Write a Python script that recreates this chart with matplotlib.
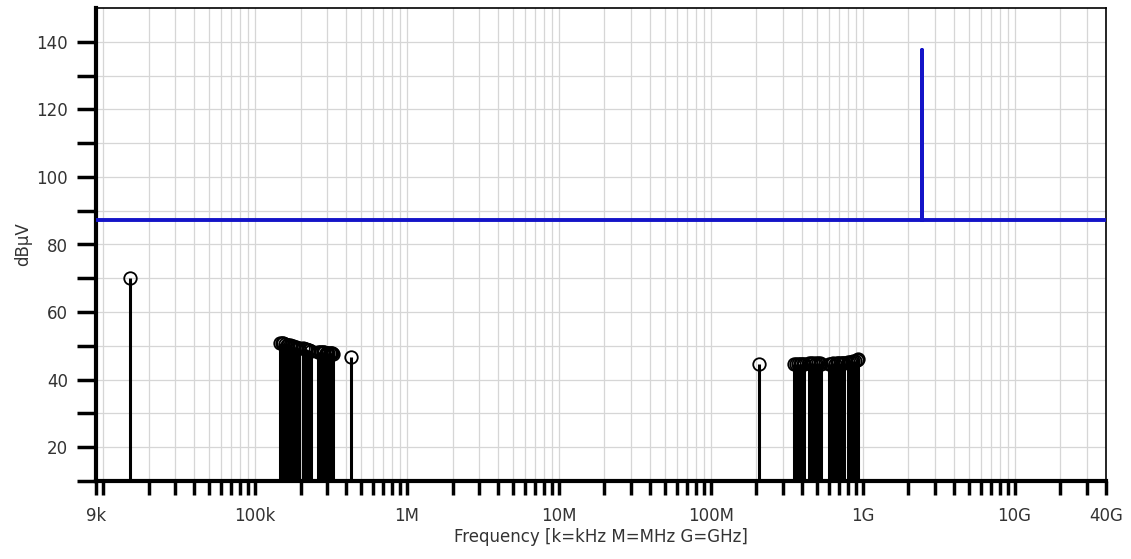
import numpy as np
import matplotlib.pyplot as plt
from matplotlib.ticker import FixedLocator, NullFormatter

# emission peaks (Hz, dBuV)
f_low = [15.1e3]
v_low = [70.1]

f_grp1 = [146e3, 150e3, 154e3, 158e3, 162e3, 166e3, 170e3, 174e3, 178e3, 182e3, 186e3, 190e3, 194e3]
v_grp1 = [50.8, 50.9, 50.7, 50.6, 50.4, 50.3, 50.2, 50.0, 49.9, 49.7, 49.6, 49.5, 49.4]
f_grp2 = [208e3, 213e3, 218e3, 223e3, 228e3, 233e3]
v_grp2 = [49.3, 49.2, 49.0, 48.9, 48.8, 48.6]
f_grp3 = [262e3, 268e3, 274e3, 280e3, 286e3, 292e3, 298e3, 304e3, 310e3, 316e3, 322e3, 327e3]
v_grp3 = [48.3, 48.2, 48.2, 48.1, 48.1, 48.0, 48.0, 47.9, 47.9, 47.8, 47.8, 47.7]
f_single1 = [430e3]
v_single1 = [46.8]

f_single2 = [208e6]
v_single2 = [44.5]
f_grp4 = [355e6, 365e6, 375e6, 385e6, 395e6, 405e6, 412e6]
v_grp4 = [44.6, 44.6, 44.5, 44.6, 44.7, 44.6, 44.7]
f_grp5 = [445e6, 458e6, 471e6, 484e6, 497e6, 510e6, 522e6, 533e6]
v_grp5 = [44.8, 44.9, 44.8, 44.7, 44.8, 44.9, 44.8, 44.7]
f_grp6 = [602e6, 620e6, 638e6, 656e6, 674e6, 692e6, 710e6, 728e6, 746e6, 756e6]
v_grp6 = [44.6, 44.7, 44.8, 44.7, 44.8, 44.9, 44.8, 44.9, 45.0, 45.0]
f_grp7 = [803e6, 825e6, 847e6, 869e6, 891e6, 913e6, 935e6]
v_grp7 = [45.1, 45.2, 45.3, 45.4, 45.6, 45.8, 46.0]

# limit line
f_limit = [9e3, 2.45e9, 2.45e9, 2.45e9, 40e9]
v_limit = [87.2, 87.2, 137.6, 87.2, 87.2]

freqs = f_low + f_grp1 + f_grp2 + f_grp3 + f_single1 + f_single2 + f_grp4 + f_grp5 + f_grp6 + f_grp7
vals = v_low + v_grp1 + v_grp2 + v_grp3 + v_single1 + v_single2 + v_grp4 + v_grp5 + v_grp6 + v_grp7

xticks = [9e3, 1e5, 1e6, 1e7, 1e8, 1e9, 1e10, 4e10]
xticklabels = ['9k', '100k', '1M', '10M', '100M', '1G', '10G', '40G']

fig = plt.figure(figsize=(11.31, 5.59), dpi=100)
ax = fig.add_axes([96/1131, 1-481/559, 1010/1131, 473/559])
ax.set_xscale('log')
ax.set_xlim(9e3, 40e9)
ax.set_ylim(10, 150)

minor = []
for d in range(3, 11):
    for m in range(1, 10):
        v = m * 10.0**d
        if 9e3 < v < 40e9 and v not in xticks:
            minor.append(v)
ax.xaxis.set_major_locator(FixedLocator(xticks))
ax.set_xticklabels(xticklabels)
ax.xaxis.set_minor_locator(FixedLocator(minor))
ax.xaxis.set_minor_formatter(NullFormatter())

ax.set_yticks([20, 40, 60, 80, 100, 120, 140])
ax.set_yticks([10, 30, 50, 70, 90, 110, 130], minor=True)

ax.grid(True, which='both', color='#d6d6d6', linewidth=0.9)
ax.set_axisbelow(True)

ax.tick_params(axis='both', which='both', direction='out', width=2.5, color='black', labelsize=12, labelcolor='#333333')
ax.tick_params(axis='x', which='both', length=10, pad=9)
ax.tick_params(axis='y', which='both', length=14, pad=6)

for s in ['left', 'bottom']:
    ax.spines[s].set_linewidth(3)
for s in ['top', 'right']:
    ax.spines[s].set_linewidth(1.2)

ax.plot(f_limit, v_limit, color='#1414c8', linewidth=2.8, zorder=3)

ax.vlines(freqs, 10, vals, color='black', linewidth=2.2, zorder=4)
ax.plot(freqs, vals, 'o', markersize=9, markerfacecolor='none', markeredgecolor='black', markeredgewidth=1.3, zorder=5)

ax.set_xlabel('Frequency [k=kHz M=MHz G=GHz]', fontsize=12, color='#333333', labelpad=2)
ax.set_ylabel('dBµV', fontsize=12, color='#333333', labelpad=3)

fig.savefig('out.png', dpi=100)
